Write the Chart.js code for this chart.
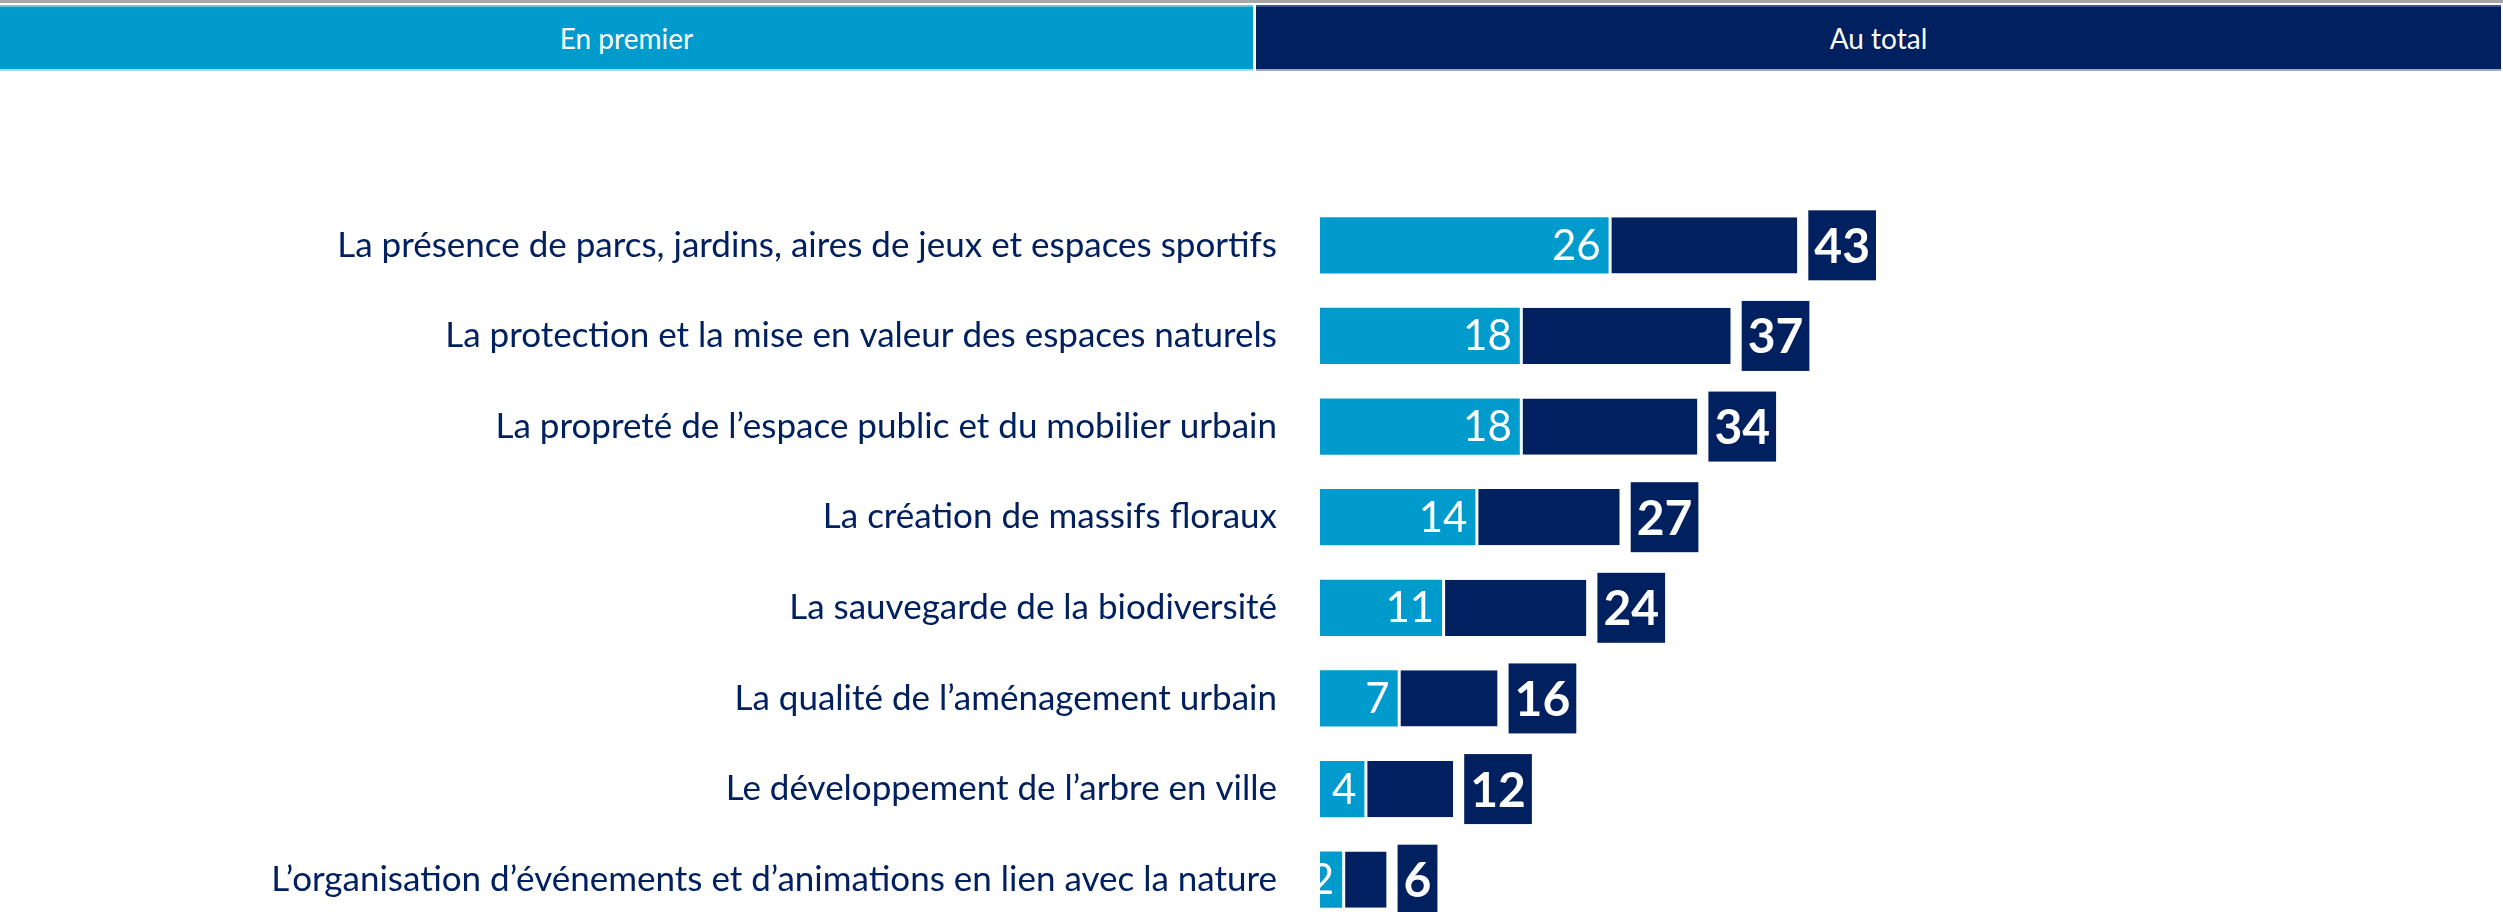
<!DOCTYPE html>
<html lang="fr">
<head>
<meta charset="utf-8">
<title>En premier / Au total</title>
<script src="https://cdn.jsdelivr.net/npm/chart.js@4.4.1/dist/chart.umd.min.js"></script>
<style>
  html, body { margin: 0; padding: 0; background: #fff; overflow: hidden; }
  body { width: 2503px; height: 912px; position: relative; font-family: Lato, "Open Sans", sans-serif; }
  #topline { position: absolute; left: 0; top: 0; width: 2503px; height: 3px; background: #a6a6a6; }
  .band { position: absolute; top: 5px; height: 66px; color: #fff; font-size: 28px; display: flex; align-items: center; justify-content: center; box-sizing: border-box; }
  #band-first { left: 0; width: 1253px; background: #009bcd; border-top: 2px solid #62c3e6; border-bottom: 2px solid #aadcf1; }
  #band-total { left: 1256px; width: 1245px; background: #002060; border-top: 2px solid #3d5288; border-bottom: 2px solid #9aa8c9; }
  #chart { position: absolute; left: 0; top: 0; }
</style>
</head>
<body>
<div id="topline"></div>
<div class="band" id="band-first">En premier</div>
<div class="band" id="band-total">Au total</div>
<!-- la toile dépasse en bas : la dernière barre touche le bord de l'image -->
<canvas id="chart" width="2503" height="989"></canvas>

<script>
// données
const categories = [
  "La présence de parcs, jardins, aires de jeux et espaces sportifs",
  "La protection et la mise en valeur des espaces naturels",
  "La propreté de l’espace public et du mobilier urbain",
  "La création de massifs floraux",
  "La sauvegarde de la biodiversité",
  "La qualité de l’aménagement urbain",
  "Le développement de l’arbre en ville",
  "L’organisation d’événements et d’animations en lien avec la nature"
];
const firstValues = [26, 18, 18, 14, 11, 7, 4, 2];
const totalValues = [43, 37, 34, 27, 24, 16, 12, 6];

const LIGHT = "#009bcd";
const NAVY = "#002060";

// la partie foncée = total - en premier
const restValues = totalValues.map((t, i) => t - firstValues[i]);

// étiquettes dans les barres + encadrés du total
const valueLabels = {
  id: "valueLabels",
  afterDatasetsDraw(chart) {
    const ctx = chart.ctx;
    const area = chart.chartArea;
    const xScale = chart.scales.x;
    const meta = chart.getDatasetMeta(0);

    ctx.save();
    meta.data.forEach((bar, i) => {
      // valeur "en premier"
      ctx.save();
      ctx.beginPath();
      ctx.rect(area.left, area.top, area.right - area.left, area.bottom - area.top);
      ctx.clip();
      ctx.fillStyle = "#fff";
      ctx.font = "42px Lato, 'Open Sans', sans-serif";
      ctx.textAlign = "right";
      ctx.textBaseline = "middle";
      ctx.fillText(String(firstValues[i]), bar.x - 8, bar.y + 1);
      ctx.restore();

      // encadré du total
      const txt = String(totalValues[i]);
      ctx.font = "bold 48px Lato, 'Open Sans', sans-serif";
      const w = ctx.measureText(txt).width + 12;
      const x0 = xScale.getPixelForValue(totalValues[i]) + 11;
      ctx.fillStyle = NAVY;
      ctx.fillRect(x0, bar.y - 35, w, 70);
      ctx.fillStyle = "#fff";
      ctx.textAlign = "center";
      ctx.textBaseline = "middle";
      ctx.fillText(txt, x0 + w / 2, bar.y + 2);
    });
    ctx.restore();
  }
};

new Chart(document.getElementById("chart"), {
  type: "bar",
  data: {
    labels: categories,
    datasets: [
      {
        label: "En premier",
        data: firstValues,
        backgroundColor: LIGHT,
        borderWidth: 0
      },
      {
        label: "Au total",
        data: restValues,
        backgroundColor: NAVY,
        borderColor: "#fff",
        borderWidth: { left: 3, right: 0, top: 0, bottom: 0 },
        borderSkipped: false
      }
    ]
  },
  options: {
    indexAxis: "y",
    responsive: false,
    animation: false,
    barPercentage: 0.62,
    categoryPercentage: 1,
    layout: { padding: { top: 200, bottom: 0, left: 0, right: 73 } },
    plugins: {
      legend: { display: false },
      tooltip: { enabled: false }
    },
    scales: {
      x: {
        display: false,
        stacked: true,
        min: 0,
        max: 100
      },
      y: {
        stacked: true,
        grid: { display: false, drawTicks: false },
        border: { display: false },
        ticks: {
          color: NAVY,
          padding: 43,
          font: { family: "Lato, 'Open Sans', sans-serif", size: 35 }
        },
        afterFit(scale) {
          scale.width = 1320;
        }
      }
    }
  },
  plugins: [valueLabels]
});
</script>
</body>
</html>
